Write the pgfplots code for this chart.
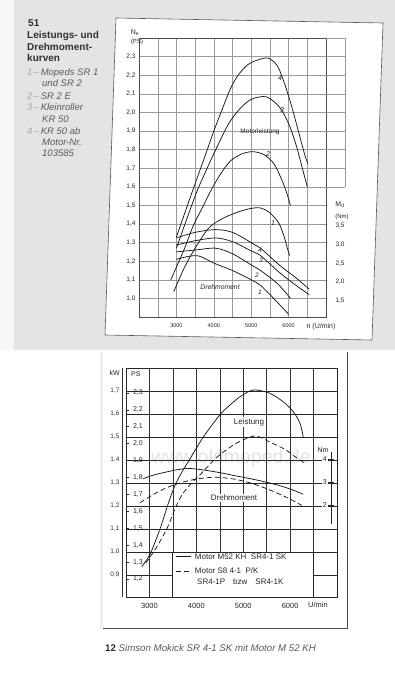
\documentclass[border=0pt]{standalone}
\usepackage{pgfplots}
\pgfplotsset{compat=1.18}
\usepackage{fontspec}
\setmainfont{Liberation Sans}
\definecolor{pagegray}{HTML}{E4E4E4}
\definecolor{capdark}{HTML}{303030}
\definecolor{capmid}{HTML}{5A5A5A}
\definecolor{caplight}{HTML}{A8A8A8}
\pgfplotsset{
  onedec/.style={/pgf/number format/fixed, /pgf/number format/fixed zerofill, /pgf/number format/precision=1, /pgf/number format/use comma, /pgf/number format/assume math mode=true},
  curve/.style={black!90, line width=0.75pt, smooth, tension=0.5, mark=none},
}
\begin{document}
\begin{tikzpicture}[x=1pt,y=1pt]
\useasboundingbox (0,0) rectangle (395,-677);
\fill[white] (0,0) rectangle (395,-677);
\fill[pagegray] (0,0) rectangle (395,-350);
\fill[black!3] (0,0) rectangle (14,-350);
\filldraw[fill=white,draw=black!65,line width=0.6pt] (116,-18) -- (383,-23) -- (372,-340) -- (105,-335) -- cycle;

% ---------- captions ----------
\begin{scope}[every node/.style={anchor=base west, inner sep=0pt}]
\node[font=\fontsize{10}{12}\selectfont\bfseries, text=capdark] at (28,-26.5) {51};
\node[font=\fontsize{10}{12}\selectfont\bfseries, text=capdark] at (27,-38.5) {Leistungs- und};
\node[font=\fontsize{10}{12}\selectfont\bfseries, text=capdark] at (27,-50.5) {Drehmoment-};
\node[font=\fontsize{10}{12}\selectfont\bfseries, text=capdark] at (27,-62) {kurven};
\node[font=\fontsize{9.5}{11}\selectfont\itshape, text=capmid] at (27,-75.5) {{\color{caplight}1\kern1.5pt–\kern1.5pt}Mopeds SR 1};
\node[font=\fontsize{9.5}{11}\selectfont\itshape, text=capmid] at (42,-86.5) {und SR 2};
\node[font=\fontsize{9.5}{11}\selectfont\itshape, text=capmid] at (27,-99.5) {{\color{caplight}2\kern1.5pt–\kern1.5pt}SR 2 E};
\node[font=\fontsize{9.5}{11}\selectfont\itshape, text=capmid] at (27,-110.5) {{\color{caplight}3\kern1.5pt–\kern1.5pt}Kleinroller};
\node[font=\fontsize{9.5}{11}\selectfont\itshape, text=capmid] at (42,-122.5) {KR 50};
\node[font=\fontsize{9.5}{11}\selectfont\itshape, text=capmid] at (27,-134.5) {{\color{caplight}4\kern1.5pt–\kern1.5pt}KR 50 ab};
\node[font=\fontsize{9.5}{11}\selectfont\itshape, text=capmid] at (42,-145.5) {Motor-Nr.};
\node[font=\fontsize{9.5}{11}\selectfont\itshape, text=capmid] at (42,-156.5) {103585};
\node[font=\fontsize{9.7}{11}\selectfont, text=capmid] at (105,-651.5) {{\bfseries\color{capdark}12} \itshape Simson Mokick SR 4-1 SK mit Motor M 52 KH};
\end{scope}

% ================= TOP CHART =================
\begin{axis}[
  at={(139pt,-317pt)}, anchor=south west, scale only axis,
  width=187pt, height=279pt, clip=false,
  xmin=2000, xmax=7000, ymin=0.9, ymax=2.4,
  xtick={2500,3000,...,6500}, xticklabels={,3000,,4000,,5000,,6000,},
  ytick={1.0,1.1,...,2.31},
  yticklabel style={onedec, font=\fontsize{6.5}{7}\selectfont, text=black!85},
  xticklabel style={font=\fontsize{5.5}{6}\selectfont, text=black!85, yshift=-3.5pt},
  major tick length=0pt,
  grid=major, major grid style={black!40, line width=0.4pt},
  axis line style={black!70, line width=0.6pt},
]
\addplot[curve] coordinates {(3000,1.33) (3400,1.56) (3800,1.785) (4000,1.90) (4250,2.03) (4450,2.13) (4650,2.20) (4900,2.255) (5150,2.28) (5450,2.292) (5700,2.25) (5900,2.15) (6100,2.02) (6300,1.87) (6450,1.76) (6520,1.725)};
\addplot[curve] coordinates {(3000,1.27) (3500,1.55) (3800,1.69) (4100,1.82) (4400,1.94) (4700,2.02) (5000,2.07) (5400,2.084) (5750,2.03) (6000,1.94) (6200,1.825) (6400,1.675) (6500,1.60)};
\addplot[curve] coordinates {(2850,1.10) (3200,1.26) (3450,1.39) (3700,1.49) (3950,1.59) (4200,1.675) (4450,1.74) (4750,1.777) (5050,1.789) (5350,1.772) (5600,1.726) (5780,1.655) (5920,1.585) (6050,1.50)};
\addplot[curve] coordinates {(2930,1.036) (3200,1.16) (3500,1.27) (3850,1.375) (4150,1.42) (4400,1.445) (4700,1.468) (5000,1.484) (5250,1.486) (5500,1.46) (5740,1.404) (5880,1.332) (5980,1.26) (6030,1.23)};
\draw[black!40, line width=0.4pt] (axis cs:7000,2.4) -- (axis cs:7500,2.4) -- (axis cs:7500,1.6)
  (axis cs:7000,2.3) -- (axis cs:7500,2.3) (axis cs:7000,2.2) -- (axis cs:7500,2.2)
  (axis cs:7000,2.1) -- (axis cs:7500,2.1) (axis cs:7000,2.0) -- (axis cs:7500,2.0)
  (axis cs:7000,1.9) -- (axis cs:7500,1.9) (axis cs:7000,1.8) -- (axis cs:7500,1.8)
  (axis cs:7000,1.7) -- (axis cs:7500,1.7) (axis cs:7000,1.6) -- (axis cs:7500,1.6);
\end{axis}
\begin{axis}[
  at={(139pt,-317pt)}, anchor=south west, scale only axis,
  width=187pt, height=279pt, clip=false,
  xmin=2000, xmax=7000, ymin=1.0, ymax=8.5,
  axis x line=none, axis y line*=right, y axis line style={draw=none},
  ytick={1.5,2.0,...,3.6},
  yticklabel style={onedec, font=\fontsize{6.5}{7}\selectfont, text=black!85, xshift=6pt, yshift=-2pt},
  major tick length=0pt,
]
\addplot[curve] coordinates {(3000,3.125) (3500,3.275) (4050,3.35) (4500,3.275) (5000,3.0) (5250,2.85) (5750,2.4) (6200,2.05) (6550,1.75)};
\addplot[curve] coordinates {(3000,2.935) (3500,3.05) (4050,3.125) (4500,3.025) (5000,2.775) (5250,2.65) (5750,2.2) (6200,1.85) (6550,1.6)};
\addplot[curve] coordinates {(3000,2.75) (3500,2.8) (4050,2.85) (4500,2.7) (5000,2.4) (5250,2.25) (5700,1.9) (6050,1.5)};
\addplot[curve] coordinates {(3000,2.55) (3300,2.625) (3600,2.64) (4000,2.45) (4500,2.25) (5000,2.0) (5250,1.85) (5600,1.5) (6000,1.075)};
\end{axis}
\begin{scope}[every node/.style={inner sep=0pt, text=black!85}]
\node[font=\fontsize{7}{7}\selectfont] at (135,-33) {N\textsubscript{e}};
\node[font=\fontsize{6}{6}\selectfont] at (137,-42) {(PS)};
\node[font=\fontsize{7}{7}\selectfont] at (340,-205) {M\textsubscript{d}};
\node[font=\fontsize{6}{6}\selectfont] at (342,-217) {(Nm)};
\node[font=\fontsize{6.5}{7}\selectfont] at (260,-132) {Motorleistung};
\node[font=\fontsize{6.8}{7}\selectfont\itshape] at (220,-287) {Drehmoment};
\node[font=\fontsize{7}{7}\selectfont] at (321,-327) {n (U/min)};
\node[font=\fontsize{7}{7}\selectfont\itshape] at (280,-78) {4};
\node[font=\fontsize{7}{7}\selectfont\itshape] at (282,-110) {3};
\node[font=\fontsize{7}{7}\selectfont\itshape] at (268,-154) {2};
\node[font=\fontsize{7}{7}\selectfont\itshape] at (273,-223) {1};
\node[font=\fontsize{6.5}{7}\selectfont\itshape] at (260,-250) {4};
\node[font=\fontsize{6.5}{7}\selectfont\itshape] at (261,-260) {3};
\node[font=\fontsize{6.5}{7}\selectfont\itshape] at (257,-275) {2};
\node[font=\fontsize{6.5}{7}\selectfont\itshape] at (260,-292) {1};
\end{scope}

% ================= BOTTOM CHART =================
\draw[black!70, line width=0.6pt] (347,-352) -- (347,-628) -- (103,-628);
\fill[black!6] (100,-352) rectangle (103,-628);
% vertical grid
\begin{axis}[
  at={(126pt,-597pt)}, anchor=south west, scale only axis,
  width=211pt, height=229pt,
  xmin=2500, xmax=7000, ymin=0, ymax=1,
  axis line style={draw=none}, xtick={3000,3500,...,6500}, ytick=\empty,
  xticklabels={}, major tick length=0pt,
  xmajorgrids, major grid style={black!80, line width=0.55pt},
]
\end{axis}
% main axis (kW) with power curves
\begin{axis}[
  at={(126pt,-597pt)}, anchor=south west, scale only axis,
  width=211pt, height=229pt, clip=false,
  xmin=2500, xmax=7000, ymin=0.804, ymax=1.8,
  xtick={3000,3500,...,6500}, xticklabels={3000,,4000,,5000,,6000,},
  ytick={0.9,1.0,...,1.71},
  yticklabel style={onedec, font=\fontsize{6.5}{7}\selectfont, text=black!80, xshift=-3pt},
  xticklabel style={font=\fontsize{7.5}{8}\selectfont, text=black!85, yshift=-3pt},
  major tick length=0pt,
  ymajorgrids, major grid style={black!85, line width=0.85pt},
  axis line style={black!85, line width=0.85pt},
  legend style={at={(axis cs:3545,0.999)}, anchor=north west, draw=none, fill=none,
    font=\fontsize{8}{9}\selectfont, inner sep=0pt, row sep=5.5pt, column sep=3pt,
    nodes={inner sep=1pt, text height=5.8pt, text depth=1.2pt, text=black!85}},
  legend cell align=left,
  legend image code/.code={\draw[#1] (0pt,0pt) -- (15pt,0pt);},
]
\addplot[curve] coordinates {(2835,0.936) (3012,0.99) (3225,1.10) (3400,1.21) (3545,1.29) (3700,1.35) (3850,1.40) (4150,1.50) (4500,1.596) (4717,1.639) (4930,1.675) (5144,1.70) (5290,1.704) (5570,1.69) (5854,1.653) (6067,1.61) (6210,1.56) (6280,1.50)};
\addlegendentry{Motor M52 KH\ \ SR4-1 SK}
\addplot[curve, dash pattern=on 5pt off 3pt] coordinates {(2920,0.951) (3150,1.02) (3370,1.10) (3550,1.19) (3700,1.25) (3900,1.30) (4100,1.34) (4430,1.41) (4790,1.465) (5074,1.494) (5287,1.504) (5570,1.478) (5900,1.445) (6100,1.415) (6316,1.385)};
\addlegendentry{Motor S8 4-1\ \ P/K}
\filldraw[fill=white, draw=black!85, line width=0.85pt] (axis cs:3500,0.804) rectangle (axis cs:6500,1.0);
\end{axis}
% PS scale (labels inside)
\begin{axis}[
  at={(126pt,-597pt)}, anchor=south west, scale only axis,
  width=211pt, height=229pt,
  xmin=2500, xmax=7000, ymin=1.0931, ymax=2.4473,
  axis x line=none, axis y line*=left, y axis line style={draw=none},
  ytick={1.2,1.3,...,2.31},
  yticklabel style={onedec, anchor=west, xshift=3.5pt, font=\fontsize{7}{7}\selectfont, text=black!85},
  tick align=inside, major tick length=3pt, tick style={black!85, line width=0.6pt},
]
\end{axis}
% torque curves (Nm)
\begin{axis}[
  at={(126pt,-597pt)}, anchor=south west, scale only axis,
  width=211pt, height=229pt,
  xmin=2500, xmax=7000, ymin=-1.96, ymax=8.0, hide axis,
]
\addplot[curve] coordinates {(2870,3.19) (3100,3.35) (3368,3.48) (3600,3.58) (3830,3.63) (4100,3.58) (4500,3.45) (4790,3.33) (5215,3.16) (5500,3.03) (5783,2.88) (6050,2.70) (6280,2.51)};
\addplot[curve, dash pattern=on 5pt off 3pt] coordinates {(2800,2.14) (3000,2.4) (3200,2.63) (3400,2.82) (3700,3.03) (4000,3.17) (4300,3.24) (4500,3.24) (4800,3.17) (5100,3.03) (5400,2.83) (5700,2.58) (6000,2.30) (6250,2.02)};
\end{axis}
% Nm scale
\begin{axis}[
  at={(331pt,-524pt)}, anchor=south west, scale only axis,
  width=1pt, height=72pt,
  xmin=0, xmax=1, ymin=1.174, ymax=4.304,
  axis x line=none, axis y line=left, y axis line style={-, black!85, line width=0.6pt},
  ytick={2,3,4}, tick align=center, major tick length=6pt, tick style={black!85, line width=0.6pt},
  yticklabel style={fill=white, inner sep=1pt, font=\fontsize{7}{7}\selectfont, text=black!85, /pgf/number format/assume math mode=true},
]
\end{axis}
\begin{scope}[every node/.style={inner sep=0pt, text=black!85}]
\draw[black!80, line width=0.6pt] (122.5,-368) -- (122.5,-597);
\node[font=\fontsize{7}{7}\selectfont, anchor=east] at (120,-373) {kW};
\node[font=\fontsize{7}{7}\selectfont, anchor=west] at (131,-374) {PS};
\node[font=\fontsize{7}{7}\selectfont] at (323,-450) {Nm};
\node[font=\fontsize{7.5}{8}\selectfont] at (318,-605) {U/min};
\node[font=\fontsize{8}{8}\selectfont, fill=white, inner sep=1pt] at (249,-422) {Leistung};
\node[font=\fontsize{8}{8}\selectfont, fill=white, inner sep=1pt] at (234,-498) {Drehmoment};
\node[font=\fontsize{8}{8}\selectfont, anchor=west] at (197,-582) {SR4-1P\quad bzw\quad SR4-1K};
\node[font=\fontsize{19.5}{20}\selectfont, text=black!60, opacity=0.18] at (231,-458) {www.oldmoped.de};
\end{scope}
\end{tikzpicture}
\end{document}
